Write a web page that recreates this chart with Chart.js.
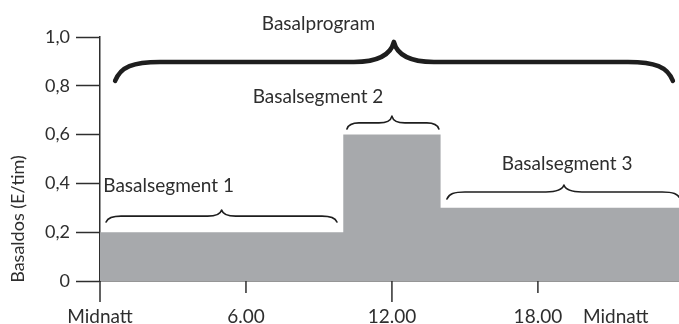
<!DOCTYPE html>
<html>
<head>
<meta charset="utf-8">
<script src="https://cdn.jsdelivr.net/npm/chart.js@4/dist/chart.umd.min.js"></script>
<style>
  html, body { margin: 0; padding: 0; background: #fff; }
  #wrap { width: 679px; height: 324px; position: relative; }
</style>
</head>
<body>
<div id="wrap"><canvas id="c"></canvas></div>
<script>
// ---- data ----
const segStartHours = [0, 10, 14];
const segRates = [0.2, 0.6, 0.3];
const dayEndHour = 24;

const yTickValues = [0, 0.2, 0.4, 0.6, 0.8, 1.0];
const yTickLabels = ['0', '0,2', '0,4', '0,6', '0,8', '1,0'];
const xTickHours = [0, 6, 12, 18, 21.2];
const xTickLabels = ['Midnatt', '6.00', '12.00', '18.00', 'Midnatt'];
const yAxisTitle = 'Basaldos (E/tim)';

// braces (annotation positions in hours / E/tim)
const braceLabels = ['Basalprogram', 'Basalsegment 1', 'Basalsegment 2', 'Basalsegment 3'];
const braceLabelHour = [8.98, 2.82, 8.96, 19.2];
const braceLabelValue = [1.029, 0.364, 0.730, 0.455];
const braceStartHour = [0.62, 0.25, 10.15, 14.26];
const braceEndHour = [23.55, 9.74, 13.93, 23.85];
const braceMidHour = [12.08, 5.0, 12.0, 19.07];
const braceBarValue = [0.898, 0.266, 0.648, 0.365];
const braceTipValue = [0.82, 0.242, 0.623, 0.336];
const bracePeakValue = [0.98, 0.291, 0.676, 0.393];

// ---- styles ----
const INK = '#2e2e2e';
const FILL = '#a7a9ac';
const xTickMarkLength = [21, 12, 21, 12, 0];
const braceStyle = [
  { lw: 4.5, endR: 45, midR: 40 },
  { lw: 1.6, endR: 15, midR: 14 },
  { lw: 1.6, endR: 12, midR: 13 },
  { lw: 1.6, endR: 18, midR: 18 }
];

const points = segStartHours.map((h, i) => ({ x: h, y: segRates[i] }));
points.push({ x: dayEndHour, y: segRates[segRates.length - 1] });

function drawBrace(ctx, x1, x2, xm, yBar, yTip, yPeak, st) {
  const e = st.endR, m = st.midR;
  ctx.beginPath();
  ctx.moveTo(x1, yTip);
  ctx.bezierCurveTo(x1 + e * 0.12, yBar + (yTip - yBar) * 0.25, x1 + e * 0.4, yBar, x1 + e, yBar);
  ctx.lineTo(xm - m, yBar);
  ctx.bezierCurveTo(xm - m * 0.3, yBar, xm - m * 0.06, yBar - (yBar - yPeak) * 0.5, xm, yPeak);
  ctx.bezierCurveTo(xm + m * 0.06, yBar - (yBar - yPeak) * 0.5, xm + m * 0.3, yBar, xm + m, yBar);
  ctx.lineTo(x2 - e, yBar);
  ctx.bezierCurveTo(x2 - e * 0.4, yBar, x2 - e * 0.12, yBar + (yTip - yBar) * 0.25, x2, yTip);
  ctx.lineWidth = st.lw;
  ctx.strokeStyle = '#1e1e1e';
  ctx.lineCap = 'round';
  ctx.lineJoin = 'round';
  ctx.stroke();
}

const annotPlugin = {
  id: 'annot',
  afterDraw(chart) {
    const ctx = chart.ctx;
    const xs = chart.scales.x, ys = chart.scales.y;
    ctx.save();
    // x tick marks with individual lengths
    const y0 = ys.getPixelForValue(0);
    ctx.strokeStyle = INK;
    ctx.lineWidth = 1.5;
    xTickHours.forEach((h, i) => {
      if (!xTickMarkLength[i]) return;
      const px = xs.getPixelForValue(h);
      ctx.beginPath();
      ctx.moveTo(px, y0);
      ctx.lineTo(px, y0 + xTickMarkLength[i]);
      ctx.stroke();
    });
    for (let i = 0; i < braceLabels.length; i++) {
      drawBrace(ctx,
        xs.getPixelForValue(braceStartHour[i]),
        xs.getPixelForValue(braceEndHour[i]),
        xs.getPixelForValue(braceMidHour[i]),
        ys.getPixelForValue(braceBarValue[i]),
        ys.getPixelForValue(braceTipValue[i]),
        ys.getPixelForValue(bracePeakValue[i]),
        braceStyle[i]);
      ctx.fillStyle = INK;
      ctx.font = '19px Lato';
      ctx.textAlign = 'center';
      ctx.textBaseline = 'alphabetic';
      ctx.fillText(braceLabels[i], xs.getPixelForValue(braceLabelHour[i]), ys.getPixelForValue(braceLabelValue[i]));
    }
    // y axis title
    ctx.translate(18.5, 219);
    ctx.rotate(-Math.PI / 2);
    ctx.font = '18px Lato';
    ctx.textAlign = 'center';
    ctx.textBaseline = 'middle';
    ctx.fillStyle = INK;
    ctx.fillText(yAxisTitle, 0, 0);
    ctx.restore();
  }
};

Chart.defaults.font.family = 'Lato';
Chart.defaults.color = INK;

new Chart(document.getElementById('c'), {
  type: 'line',
  data: {
    datasets: [{
      data: points,
      stepped: true,
      fill: 'origin',
      backgroundColor: FILL,
      borderWidth: 0,
      borderColor: 'rgba(0,0,0,0)',
      pointRadius: 0
    }]
  },
  options: {
    responsive: true,
    maintainAspectRatio: false,
    animation: false,
    layout: { padding: { top: 37, right: 0, left: 0, bottom: 0 } },
    plugins: { legend: { display: false }, tooltip: { enabled: false } },
    scales: {
      x: {
        type: 'linear',
        min: 0,
        max: 23.8,
        afterBuildTicks: s => { s.ticks = xTickHours.map(v => ({ value: v })); },
        afterFit: s => { s.height = 43; },
        ticks: {
          autoSkip: false,
          maxRotation: 0,
          padding: 3,
          font: { size: 19 },
          color: INK,
          callback: (v, i) => xTickLabels[i]
        },
        grid: {
          drawOnChartArea: false,
          drawTicks: true,
          tickLength: 21,
          tickWidth: 1.5,
          tickColor: 'rgba(0,0,0,0)'
        },
        border: { display: true, color: INK, width: 1.5 }
      },
      y: {
        min: 0,
        max: 1,
        afterBuildTicks: s => { s.ticks = yTickValues.map(v => ({ value: v })); },
        afterFit: s => { s.width = 100; },
        ticks: {
          padding: 6,
          font: { size: 18 },
          color: INK,
          callback: (v, i) => yTickLabels[i]
        },
        grid: {
          drawOnChartArea: false,
          drawTicks: true,
          tickLength: 24,
          tickWidth: 1.5,
          tickColor: INK
        },
        border: { display: true, color: INK, width: 1.5 }
      }
    }
  },
  plugins: [annotPlugin]
});
</script>
</body>
</html>
